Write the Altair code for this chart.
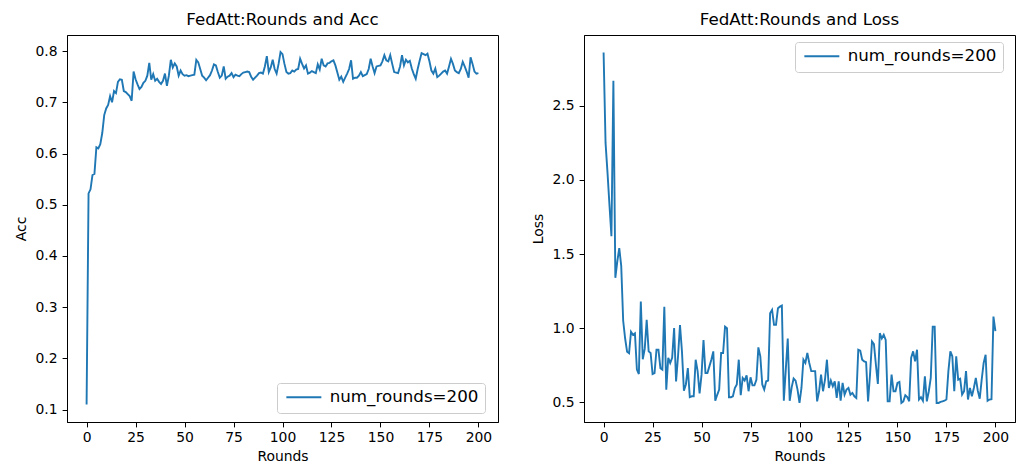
import altair as alt
import pandas as pd

rounds = list(range(201))

acc = [
    0.110, 0.522, 0.530, 0.558, 0.560, 0.612, 0.610, 0.618, 0.640, 0.675,
    0.688, 0.695, 0.712, 0.700, 0.722, 0.718, 0.740, 0.745, 0.744, 0.722,
    0.720, 0.716, 0.712, 0.703, 0.760, 0.745, 0.735, 0.726, 0.730, 0.738,
    0.742, 0.752, 0.777, 0.744, 0.755, 0.742, 0.746, 0.740, 0.736, 0.742,
    0.756, 0.732, 0.752, 0.783, 0.768, 0.776, 0.770, 0.752, 0.762, 0.755,
    0.752, 0.753, 0.751, 0.752, 0.753, 0.754, 0.783, 0.778, 0.765, 0.752,
    0.748, 0.743, 0.748, 0.753, 0.762, 0.774, 0.772, 0.759, 0.748, 0.752,
    0.770, 0.746, 0.750, 0.752, 0.757, 0.749, 0.754, 0.752, 0.751, 0.755,
    0.758, 0.759, 0.760, 0.759, 0.750, 0.744, 0.748, 0.752, 0.757, 0.758,
    0.756, 0.770, 0.790, 0.759, 0.768, 0.783, 0.765, 0.756, 0.775, 0.798,
    0.794, 0.775, 0.759, 0.756, 0.757, 0.762, 0.760, 0.764, 0.765, 0.785,
    0.775, 0.766, 0.772, 0.756, 0.758, 0.761, 0.759, 0.757, 0.774, 0.764,
    0.785, 0.772, 0.770, 0.776, 0.777, 0.780, 0.782, 0.772, 0.758, 0.744,
    0.750, 0.740, 0.748, 0.756, 0.765, 0.782, 0.746, 0.748, 0.748, 0.752,
    0.759, 0.751, 0.753, 0.755, 0.765, 0.785, 0.770, 0.757, 0.770, 0.771,
    0.772, 0.780, 0.792, 0.782, 0.780, 0.792, 0.775, 0.759, 0.758, 0.757,
    0.770, 0.792, 0.772, 0.783, 0.778, 0.781, 0.766, 0.755, 0.746, 0.765,
    0.781, 0.796, 0.794, 0.792, 0.795, 0.780, 0.762, 0.756, 0.766, 0.749,
    0.752, 0.756, 0.760, 0.762, 0.756, 0.770, 0.785, 0.775, 0.762, 0.759,
    0.757, 0.765, 0.779, 0.770, 0.760, 0.748, 0.788, 0.775, 0.760, 0.756,
    0.757,
]

loss = [
    2.860, 2.250, 2.050, 1.830, 1.620, 2.670, 1.340, 1.450, 1.540, 1.420,
    1.050, 0.930, 0.840, 0.830, 0.975, 0.955, 0.965, 0.720, 0.690, 1.180,
    0.790, 0.860, 1.056, 0.843, 0.832, 0.690, 0.697, 0.854, 0.854, 0.730,
    0.720, 1.145, 0.585, 0.800, 0.765, 0.800, 1.000, 0.640, 0.810, 1.020,
    0.843, 0.578, 0.620, 0.730, 0.534, 0.540, 0.540, 0.787, 0.710, 0.560,
    0.686, 0.920, 0.697, 0.697, 0.742, 0.787, 0.843, 0.510, 0.550, 0.585,
    0.832, 0.832, 1.010, 1.000, 0.534, 0.534, 0.540, 0.596, 0.620, 0.787,
    0.547, 0.664, 0.646, 0.681, 0.574, 0.668, 0.614, 0.614, 0.652, 0.870,
    0.810, 0.620, 0.585, 0.641, 0.646, 1.100, 1.123, 1.022, 1.022, 1.134,
    1.145, 1.152, 0.510, 0.720, 0.930, 0.510, 0.600, 0.660, 0.646, 0.585,
    0.495, 0.596, 0.787, 0.765, 0.832, 0.765, 0.710, 0.710, 0.710, 0.506,
    0.574, 0.686, 0.574, 0.650, 0.787, 0.596, 0.646, 0.608, 0.641, 0.529,
    0.641, 0.510, 0.630, 0.551, 0.585, 0.596, 0.551, 0.563, 0.540, 0.529,
    0.854, 0.848, 0.787, 0.776, 0.770, 0.506, 0.686, 0.910, 0.892, 0.753,
    0.623, 0.966, 0.930, 0.955, 0.920, 0.506, 0.506, 0.686, 0.574, 0.574,
    0.630, 0.637, 0.495, 0.506, 0.547, 0.534, 0.506, 0.800, 0.843, 0.776,
    0.854, 0.518, 0.534, 0.510, 0.675, 0.506, 0.574, 0.664, 1.010, 1.010,
    0.495, 0.495, 0.502, 0.506, 0.510, 0.518, 0.710, 0.843, 0.810, 0.574,
    0.810, 0.652, 0.659, 0.551, 0.574, 0.710, 0.518, 0.596, 0.540, 0.596,
    0.664, 0.578, 0.524, 0.652, 0.765, 0.820, 0.510, 0.518, 0.520, 1.078,
    0.980,
]

series_label = "num_rounds=200"
title_acc = "FedAtt:Rounds and Acc"
title_loss = "FedAtt:Rounds and Loss"
x_ticks = [0, 25, 50, 75, 100, 125, 150, 175, 200]
acc_ticks = [0.1, 0.2, 0.3, 0.4, 0.5, 0.6, 0.7, 0.8]
loss_ticks = [0.5, 1.0, 1.5, 2.0, 2.5]

BLUE = "#1f77b4"
FONT = "DejaVu Sans"
W, H = 431, 387

df_acc = pd.DataFrame({"Rounds": rounds, "Acc": acc, "series": series_label})
df_loss = pd.DataFrame({"Rounds": rounds, "Loss": loss, "series": series_label})


def make_legend(x, y):
    return alt.Legend(
        title=None, orient="none", legendX=x, legendY=y,
        symbolType="M-3.5,0H3.5", symbolSize=100, symbolStrokeWidth=2,
        symbolStrokeColor=BLUE, symbolFillColor="transparent",
        symbolOffset=12.5, labelOffset=17.5,
        labelFontSize=16.7, labelFont=FONT, labelColor="black", labelLimit=400,
        fillColor="white", strokeColor="#cccccc", cornerRadius=3, padding=6,
    )


x_enc = alt.X(
    "Rounds:Q",
    scale=alt.Scale(domain=[-10, 210], nice=False, zero=False),
    axis=alt.Axis(values=x_ticks, title="Rounds", format="d"),
)

left = alt.Chart(df_acc, title=title_acc).mark_line(strokeWidth=1.9, clip=True).encode(
    x=x_enc,
    y=alt.Y("Acc:Q", scale=alt.Scale(domain=[0.0757, 0.8314], nice=False, zero=False),
            axis=alt.Axis(values=acc_ticks, title="Acc", format=".1f")),
    color=alt.Color("series:N", scale=alt.Scale(domain=[series_label], range=[BLUE]),
                    legend=make_legend(210, 348)),
).properties(width=W, height=H)

right = alt.Chart(df_loss, title=title_loss).mark_line(strokeWidth=1.9, clip=True).encode(
    x=x_enc,
    y=alt.Y("Loss:Q", scale=alt.Scale(domain=[0.3665, 2.9785], nice=False, zero=False),
            axis=alt.Axis(values=loss_ticks, title="Loss", format=".1f")),
    color=alt.Color("series:N", scale=alt.Scale(domain=[series_label], range=[BLUE]),
                    legend=make_legend(211, 7)),
).properties(width=W, height=H)

chart = (
    alt.hconcat(left, right, spacing=86, bounds="flush")
    .resolve_scale(color="independent")
    .resolve_legend(color="independent")
    .properties(padding={"left": 13, "top": 11, "right": 0, "bottom": 0}, background="white")
    .configure_view(stroke="black", strokeWidth=1)
    .configure_axis(
        domainColor="black", domainWidth=1, tickColor="black", tickWidth=1, tickSize=4.9,
        labelFont=FONT, titleFont=FONT, labelFontSize=13.9, titleFontSize=13.9,
        labelColor="black", titleColor="black", titleFontWeight="normal",
        grid=False, labelOverlap=False, labelFlush=False,
    )
    .configure_axisX(labelPadding=4, titlePadding=4.5)
    .configure_axisY(labelPadding=5, titlePadding=7)
    .configure_title(font=FONT, fontSize=16.7, fontWeight="normal", color="black",
                     anchor="middle", offset=6, baseline="bottom")
)

chart.save("out.html", embed_options={"renderer": "svg", "actions": False})
